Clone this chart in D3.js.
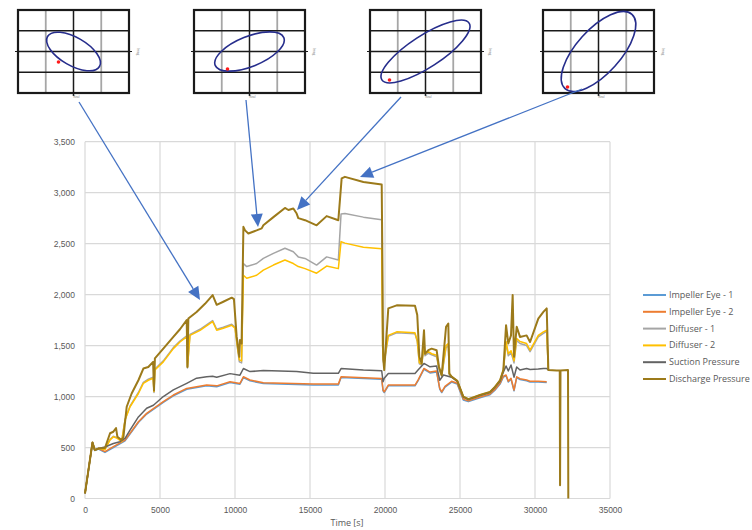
<!DOCTYPE html>
<html>
<head>
<meta charset="utf-8">
<script src="https://cdn.jsdelivr.net/npm/d3@7/dist/d3.min.js"></script>
<style>
  html, body { margin: 0; padding: 0; background: #fff; }
  svg { display: block; font-family: "Open Sans", "Liberation Sans", Arial, sans-serif; }
</style>
</head>
<body>
<svg id="chart" width="752" height="530"></svg>
<script>
// ---- pressure traces: [time s, pressure] ----
const impellerEye1 = [
  [0,45],[500,545],[650,470],[900,485],[1330,452],[1890,500],[2670,565],[3560,745],[4110,828],[5220,942],[5890,1007],
  [6780,1072],[8110,1105],[8780,1097],[9670,1137],[10330,1121],[10560,1186],[11000,1154],[11890,1127],[15220,1114],
  [16890,1114],[17070,1186],[19780,1170],[19870,1056],[19950,1039],[20220,1105],[22000,1105],[22200,1154],[22600,1268],
  [23000,1232],[23440,1242],[23650,1072],[23780,1039],[24000,1092],[24440,1142],[24820,1122],[25220,967],[25560,950],
  [26330,987],[27000,1017],[27330,1062],[27670,1122],[27890,1192],[28070,1203],[28220,1142],[28400,1172],[28600,1056],
  [28780,1186],[29000,1167],[29440,1154],[29670,1142],[30220,1142],[30780,1137]
];
const impellerEye2 = [
  [0,50],[500,550],[650,475],[900,490],[1330,460],[1890,508],[2670,573],[3560,753],[4110,835],[5220,950],[5890,1015],
  [6780,1080],[8110,1113],[8780,1105],[9670,1145],[10330,1129],[10560,1194],[11000,1162],[11890,1135],[15220,1122],
  [16890,1122],[17070,1194],[19780,1178],[19870,1064],[19950,1047],[20220,1113],[22000,1113],[22200,1162],[22600,1276],
  [23000,1240],[23440,1250],[23650,1080],[23780,1047],[24000,1100],[24440,1150],[24820,1130],[25220,975],[25560,958],
  [26330,995],[27000,1025],[27330,1070],[27670,1130],[27890,1200],[28070,1211],[28220,1150],[28400,1180],[28600,1064],
  [28780,1194],[29000,1175],[29440,1162],[29670,1150],[30220,1150],[30780,1145]
];
const diffuser1 = [
  [0,50],[500,550],[650,475],[900,490],[1330,485],[1670,580],[1890,610],[2160,595],[2440,560],[2670,775],[3000,905],
  [3560,1040],[3890,1140],[4220,1170],[4540,1190],[4600,1040],[4660,1270],[5220,1350],[5890,1480],[6330,1545],[6780,1595],
  [6830,1280],[7000,1610],[7670,1660],[8510,1745],[8780,1660],[9220,1680],[9780,1710],[10000,1680],[10160,1480],
  [10290,1340],[10440,1330],[10560,2305],[10780,2275],[11440,2305],[11890,2355],[12560,2405],[13330,2455],[13890,2420],
  [14220,2370],[14670,2355],[15440,2290],[16110,2370],[16890,2340],[17070,2790],[17330,2795],[18560,2760],[19780,2735],
  [19840,1500],[19890,1340],[19950,1330],[20220,1590],[20780,1625],[22000,1615],[22150,1540],[22290,1320],[22440,1310],
  [22600,1470],[22670,1400],[22890,1425],[23110,1410],[23440,1390],[23600,1270],[23780,1200],[24070,1480],[24220,1500],
  [24290,1215],[24440,1190],[24820,1150],[25220,995],[25560,970],[26330,1010],[27000,1040],[27330,1090],[27670,1150],
  [27890,1250],[28070,1520],[28220,1400],[28400,1430],[28510,1380],[28600,1330],[28780,1550],[29000,1520],[29440,1500],
  [29670,1440],[30220,1585],[30560,1620],[30780,1640],[30890,1260]
];
const diffuser2 = [
  [0,50],[500,550],[650,475],[900,490],[1330,480],[1670,575],[1890,605],[2160,590],[2440,557],[2670,770],[3000,900],
  [3560,1030],[3890,1130],[4220,1160],[4540,1180],[4600,1050],[4660,1260],[5220,1340],[5890,1470],[6330,1535],[6780,1585],
  [6830,1290],[7000,1600],[7670,1650],[8510,1735],[8780,1650],[9220,1670],[9780,1700],[10000,1670],[10160,1490],
  [10290,1360],[10440,1350],[10560,2190],[10780,2160],[11440,2190],[11890,2240],[12560,2290],[13330,2340],[13890,2305],
  [14220,2275],[14670,2255],[15440,2210],[16110,2280],[16890,2255],[17070,2520],[17330,2505],[18560,2465],[19780,2450],
  [19840,1500],[19890,1360],[19950,1350],[20220,1600],[20780,1635],[22000,1625],[22150,1550],[22290,1330],[22440,1320],
  [22600,1490],[22670,1420],[22890,1440],[23110,1420],[23440,1405],[23600,1280],[23780,1210],[24070,1500],[24220,1520],
  [24290,1225],[24440,1195],[24820,1155],[25220,1000],[25560,975],[26330,1015],[27000,1045],[27330,1095],[27670,1160],
  [27890,1260],[28070,1540],[28220,1420],[28400,1450],[28510,1400],[28600,1350],[28780,1570],[29000,1540],[29440,1520],
  [29670,1455],[30220,1600],[30560,1635],[30780,1650],[30890,1260]
];
const suctionPressure = [
  [0,50],[500,550],[650,475],[900,490],[1330,505],[1890,540],[2330,557],[2670,590],[3000,670],[3560,800],[4110,885],
  [4560,915],[5220,1000],[5890,1065],[6780,1130],[7440,1180],[8110,1195],[8510,1200],[8780,1190],[9670,1225],[10330,1210],
  [10560,1275],[11000,1245],[11890,1255],[14110,1245],[15220,1228],[16890,1228],[17070,1275],[18560,1260],[19780,1253],
  [19870,1145],[19950,1180],[20220,1227],[22000,1227],[22200,1260],[22600,1325],[23000,1292],[23440,1300],[23650,1160],
  [23900,1211],[24440,1190],[24820,1150],[25220,995],[25560,970],[26330,1010],[27000,1040],[27330,1090],[27670,1150],
  [27890,1240],[28070,1300],[28220,1250],[28400,1310],[28600,1190],[28780,1290],[29000,1260],[29440,1276],[29670,1265],
  [30220,1270],[30560,1276],[30780,1276],[30890,1260]
];
const dischargePressure = [
  [0,50],[500,550],[650,475],[900,490],[1330,495],[1670,640],[1890,655],[2070,690],[2160,605],[2440,573],[2560,600],
  [2780,900],[3110,1030],[3560,1160],[3890,1275],[4220,1290],[4540,1340],[4600,1060],[4660,1375],[5220,1470],[5890,1585],
  [6330,1660],[6780,1750],[6830,1290],[6890,1765],[7440,1830],[8000,1910],[8510,1995],[8780,1900],[9220,1930],[9780,1970],
  [9930,1955],[10110,1590],[10290,1390],[10330,1555],[10440,1520],[10560,2665],[10670,2630],[10890,2600],[11440,2630],
  [11780,2650],[11890,2680],[12560,2760],[13330,2850],[13560,2830],[13890,2845],[14110,2795],[14220,2750],[14670,2730],
  [15440,2680],[16110,2770],[16890,2730],[17110,3140],[17330,3155],[18560,3105],[19780,3080],[19840,2100],[19870,1490],
  [19890,1360],[19950,1260],[20220,1865],[20780,1895],[22000,1890],[22150,1800],[22290,1390],[22440,1325],[22600,1650],
  [22670,1420],[22890,1455],[23110,1470],[23440,1455],[23600,1290],[23780,1210],[24070,1685],[24220,1715],[24290,1225],
  [24440,1195],[24820,1155],[25220,1000],[25560,975],[26330,1015],[27000,1045],[27330,1095],[27670,1160],[27890,1260],
  [28070,1700],[28220,1520],[28400,1600],[28510,1995],[28600,1390],[28780,1685],[29000,1585],[29440,1600],[29670,1535],
  [30220,1765],[30560,1830],[30780,1865],[30890,1260],[31440,1255],[31650,1255],[31670,130],[31700,1255],[32200,1260],
  [32220,0]
];

const seriesNames = ["Impeller Eye - 1","Impeller Eye - 2","Diffuser - 1","Diffuser - 2","Suction Pressure","Discharge Pressure"];
const seriesData = [impellerEye1, impellerEye2, diffuser1, diffuser2, suctionPressure, dischargePressure];
const seriesColors = ["#5B9BD5","#ED7D31","#A5A5A5","#FFC000","#636363","#9C7A1A"];
const seriesWidths = [1.5,1.5,1.5,1.5,1.5,2];

const yTicks = [0,500,1000,1500,2000,2500,3000,3500];
const xTicks = [0,5000,10000,15000,20000,25000,30000,35000];
const xTitle = "Time [s]";

// ---- orbit insets: ellipse shape per snapshot ----
const orbitRx = [30, 37, 52, 50];
const orbitRy = [14, 15, 16, 22];
const orbitAngle = [30, -22, -33, -48];
const orbitDot = [[-15, 10.5], [-22, 17.5], [-36, 28.5], [-31, 35.5]];

const svg = d3.select("#chart");
const x = d3.scaleLinear().domain([0, 35000]).range([85, 610]);
const y = d3.scaleLinear().domain([0, 3500]).range([498.5, 141.7]);

// gridlines
svg.append("g").selectAll("line").data(yTicks).join("line")
  .attr("x1", x(0)).attr("x2", x(35000))
  .attr("y1", d => y(d)).attr("y2", d => y(d))
  .attr("stroke", "#D9D9D9").attr("stroke-width", 1.2);
svg.append("g").selectAll("line").data(xTicks).join("line")
  .attr("x1", d => x(d)).attr("x2", d => x(d))
  .attr("y1", y(0)).attr("y2", y(3500))
  .attr("stroke", "#D9D9D9").attr("stroke-width", 1.2);

// axes
const yAxis = d3.axisLeft(y).tickValues(yTicks).tickSize(0).tickPadding(10).tickFormat(d3.format(","));
const gy = svg.append("g").attr("transform", `translate(${x(0)},0)`).call(yAxis);
gy.select(".domain").remove();
gy.selectAll("text").attr("fill", "#595959").attr("font-size", 8.5);

const xAxis = d3.axisBottom(x).tickValues(xTicks).tickSize(0).tickPadding(8).tickFormat(d3.format("d"));
const gx = svg.append("g").attr("transform", `translate(0,${y(0)})`).call(xAxis);
gx.select(".domain").remove();
gx.selectAll("text").attr("fill", "#595959").attr("font-size", 8.5);

svg.append("text").attr("x", 347).attr("y", 526).attr("text-anchor", "middle")
  .attr("fill", "#595959").attr("font-size", 9).text(xTitle);

// traces
const line = d3.line().x(d => x(d[0])).y(d => y(d[1]));
seriesData.forEach((data, i) => {
  svg.append("path").datum(data)
    .attr("d", line).attr("fill", "none")
    .attr("stroke", seriesColors[i]).attr("stroke-width", seriesWidths[i])
    .attr("stroke-linejoin", "round");
});

// legend
const legend = svg.append("g");
seriesNames.forEach((name, i) => {
  const ly = 295 + i * 16.8;
  legend.append("line").attr("x1", 643).attr("x2", 666).attr("y1", ly).attr("y2", ly)
    .attr("stroke", seriesColors[i]).attr("stroke-width", 2);
  legend.append("text").attr("x", 669).attr("y", ly + 3).attr("font-size", 9)
    .attr("fill", "#595959").text(name);
});

// orbit snapshot insets
const insetLeft = [18, 194, 370, 543];
const insetW = 111, insetH = 83, insetTop = 10;
insetLeft.forEach((left, k) => {
  const g = svg.append("g").attr("transform", `translate(${left},${insetTop})`);
  const cw = insetW / 4, ch = insetH / 4;
  // vertical grid: outer/centre dark, quarter lines grey
  [1, 3].forEach(c => g.append("line").attr("x1", c * cw).attr("x2", c * cw).attr("y1", 0).attr("y2", insetH)
    .attr("stroke", "#A6A6A6").attr("stroke-width", 1.8));
  [1, 2, 3].forEach(r => g.append("line").attr("x1", 0).attr("x2", insetW).attr("y1", r * ch).attr("y2", r * ch)
    .attr("stroke", "#1a1a1a").attr("stroke-width", 1.5));
  g.append("line").attr("x1", 2 * cw).attr("x2", 2 * cw).attr("y1", 0).attr("y2", insetH + 3)
    .attr("stroke", "#1a1a1a").attr("stroke-width", 1.5);
  g.append("line").attr("x1", -3).attr("x2", insetW + 3).attr("y1", 2 * ch).attr("y2", 2 * ch)
    .attr("stroke", "#1a1a1a").attr("stroke-width", 1.2);
  g.append("rect").attr("x", 0).attr("y", 0).attr("width", insetW).attr("height", insetH)
    .attr("fill", "none").attr("stroke", "#1a1a1a").attr("stroke-width", 2.2);
  // tiny axis captions
  g.append("text").attr("x", insetW / 2 + 3).attr("y", insetH + 5).attr("font-size", 3.2)
    .attr("text-anchor", "middle").attr("fill", "#777").text("Real");
  g.append("text").attr("transform", `translate(${insetW + 8},${insetH / 2}) rotate(90)`)
    .attr("font-size", 3.2).attr("text-anchor", "middle").attr("fill", "#777").text("Imag");
  // orbit
  const cx = insetW / 2, cy = insetH / 2;
  g.append("ellipse").attr("cx", cx).attr("cy", cy).attr("rx", orbitRx[k]).attr("ry", orbitRy[k])
    .attr("transform", `rotate(${orbitAngle[k]},${cx},${cy})`)
    .attr("fill", "none").attr("stroke", "#262D8C").attr("stroke-width", 1.6);
  g.append("circle").attr("cx", cx + orbitDot[k][0]).attr("cy", cy + orbitDot[k][1]).attr("r", 1.8)
    .attr("fill", "#FF1A1A");
});

// callout arrows from each snapshot to its moment on the trace
const arrowStart = [[79, 102], [246, 100], [401, 97], [582, 89]];
const arrowTip = [[200, 300], [258, 227], [297, 210], [360, 177]];
const arrows = svg.append("g");
arrowStart.forEach((s, i) => {
  const t = arrowTip[i];
  const dx = t[0] - s[0], dy = t[1] - s[1];
  const len = Math.hypot(dx, dy), ux = dx / len, uy = dy / len;
  const hl = 13, hw = 6;
  const bx = t[0] - ux * hl, by = t[1] - uy * hl;
  arrows.append("line").attr("x1", s[0]).attr("y1", s[1]).attr("x2", bx).attr("y2", by)
    .attr("stroke", "#4472C4").attr("stroke-width", 1.3);
  arrows.append("path")
    .attr("d", `M${t[0]},${t[1]}L${bx - uy * hw},${by + ux * hw}L${bx + uy * hw},${by - ux * hw}Z`)
    .attr("fill", "#4472C4");
});
</script>
</body>
</html>
